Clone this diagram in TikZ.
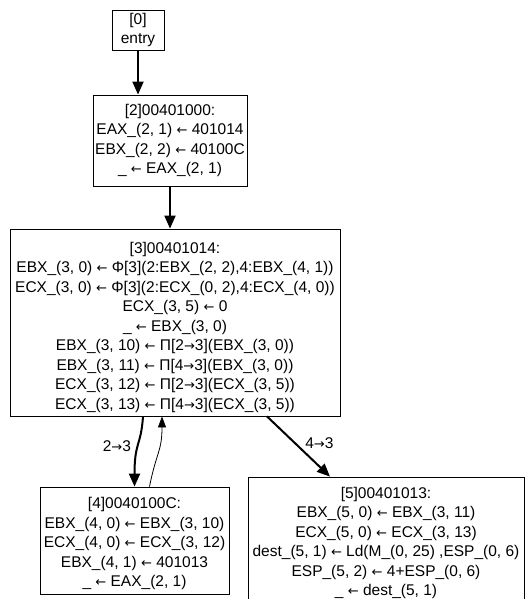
\documentclass[tikz,border=0pt]{standalone}
\usepackage{fontspec}
\setmainfont{Liberation Sans}
\newfontfamily\arrowfont{DejaVu Sans}
\usetikzlibrary{arrows, arrows.meta, positioning, calc}

\newcommand{\la}{{\arrowfont\fontsize{13}{19.5}\selectfont ←}}
\newcommand{\ra}{{\arrowfont\fontsize{13}{19.5}\selectfont →}}

\tikzset{
  block/.style={draw=black, line width=0.8pt, fill=white, inner sep=0pt, align=center,
    font=\fontsize{15.5}{19.5}\selectfont},
  flow/.style={-{Triangle[length=13pt, width=11pt]}, line width=2pt},
  back/.style={-{Triangle[length=11pt, width=8pt]}, line width=0.8pt},
  lbl/.style={font=\fontsize{15.5}{17}\selectfont, inner sep=1pt}
}

\begin{document}
\begin{tikzpicture}[x=1pt, y=-1pt]
      \useasboundingbox (0, 0) rectangle (525, 599);

      \node[block, minimum width=52pt, minimum height=40pt] (b0) at (138, 30) {[0]\\entry};

      \node[block, minimum width=154pt, minimum height=91pt] (b2) at (170, 140.5)
        {[2]00401000:\\EAX\_(2, 1) \la{} 401014\\EBX\_(2, 2) \la{} 40100C\\\_ \la{} EAX\_(2, 1)};

      \node[block, minimum width=330pt, minimum height=187pt] (b3) at (175, 322.5)
        {\rule{0pt}{21pt}[3]00401014:\\
         EBX\_(3, 0) \la{} Φ[3](2:EBX\_(2, 2),4:EBX\_(4, 1))\\
         ECX\_(3, 0) \la{} Φ[3](2:ECX\_(0, 2),4:ECX\_(4, 0))\\
         ECX\_(3, 5) \la{} 0\\
         \_ \la{} EBX\_(3, 0)\\
         EBX\_(3, 10) \la{} Π[2\ra3](EBX\_(3, 0))\\
         EBX\_(3, 11) \la{} Π[4\ra3](EBX\_(3, 0))\\
         ECX\_(3, 12) \la{} Π[2\ra3](ECX\_(3, 5))\\
         ECX\_(3, 13) \la{} Π[4\ra3](ECX\_(3, 5))};

      \node[block, minimum width=189pt, minimum height=107pt] (b4) at (134.5, 540.5)
        {\rule{0pt}{17.5pt}[4]0040100C:\\EBX\_(4, 0) \la{} EBX\_(3, 10)\\ECX\_(4, 0) \la{} ECX\_(3, 12)\\EBX\_(4, 1) \la{} 401013\\\_ \la{} EAX\_(2, 1)};

      \node[block, minimum width=276pt, minimum height=128pt] (b5) at (386, 541)
        {\rule{0pt}{15.5pt}[5]00401013:\\EBX\_(5, 0) \la{} EBX\_(3, 11)\\ECX\_(5, 0) \la{} ECX\_(3, 13)\\dest\_(5, 1) \la{} Ld(M\_(0, 25) ,ESP\_(0, 6)\\ESP\_(5, 2) \la{} 4+ESP\_(0, 6)\\\_ \la{} dest\_(5, 1)};

      % edges
      \draw[flow] (b0.south) -- (b0.south |- b2.north);
      \draw[flow] (b2.south) -- (b2.south |- b3.north);

      \draw[flow] ([xshift=-32pt]b3.south) .. controls ([xshift=-34pt, yshift=-30pt]b3.south) and ([xshift=0pt, yshift=45pt]b4.north) .. (b4.north)
        node[lbl, pos=0.5, left=5pt] {2\ra3};
      \draw[back] ([xshift=15pt]b4.north) .. controls ([xshift=22pt, yshift=35pt]b4.north) and ([xshift=-13pt, yshift=-35pt]b3.south) .. ([xshift=-13pt]b3.south);

      \draw[flow] ([xshift=92pt]b3.south) -- ([xshift=-56pt]b5.north)
        node[lbl, pos=0.45, right=8pt] {4\ra3};

    \end{tikzpicture}
\end{document}
